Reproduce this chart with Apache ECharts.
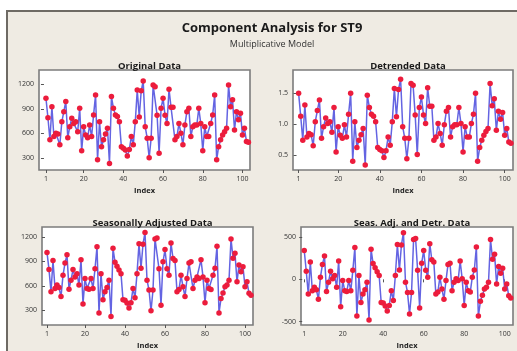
<!DOCTYPE html>
<html><head><meta charset="utf-8">
<script src="https://cdn.jsdelivr.net/npm/echarts@6/dist/echarts.min.js"></script>
<style>html,body{margin:0;padding:0;background:#fff;}#c{width:517px;height:351px;}</style>
</head><body><div id="c"></div>
<script>
const indexTicks = [1, 20, 40, 60, 80, 100];
const originalTicks = [300, 600, 900, 1200];
const detrendedTicks = [0.5, 1.0, 1.5];
const seasAdjTicks = [300, 600, 900, 1200];
const residTicks = [-500, 0, 500];

const originalData = [1030,790,520,925,560,600,590,460,740,865,990,545,680,785,720,740,620,905,385,680,580,545,700,560,825,1070,275,740,435,520,590,660,230,1050,905,825,805,740,435,415,395,320,400,560,460,740,1130,800,1120,1240,680,540,300,540,1190,1170,820,355,905,1030,820,720,1140,920,920,520,560,720,600,460,700,865,905,560,680,700,700,905,720,385,680,560,560,720,825,1070,275,435,520,580,620,660,1190,925,1010,640,865,765,845,580,660,500,490];
const detrendedData = [1.50,1.13,0.74,1.31,0.79,0.85,0.83,0.65,1.04,1.22,1.39,0.77,0.96,1.10,1.01,1.04,0.87,1.27,0.55,0.96,0.82,0.77,0.99,0.79,1.16,1.50,0.40,1.04,0.62,0.74,0.83,0.93,0.34,1.47,1.27,1.16,1.13,1.04,0.62,0.59,0.57,0.46,0.57,0.79,0.66,1.04,1.58,1.12,1.56,1.73,0.96,0.77,0.44,0.77,1.66,1.63,1.15,0.51,1.27,1.44,1.15,1.01,1.59,1.29,1.29,0.74,0.79,1.01,0.85,0.66,0.99,1.21,1.27,0.79,0.96,0.99,0.99,1.27,1.01,0.55,0.96,0.79,0.79,1.01,1.16,1.50,0.40,0.62,0.74,0.82,0.88,0.93,1.66,1.30,1.41,0.90,1.21,1.08,1.19,0.82,0.93,0.71,0.69];
const seasAdjData = [1010,800,530,910,570,610,580,470,730,880,980,560,670,800,710,750,610,920,380,690,570,560,690,570,810,1080,270,750,430,530,580,670,225,1060,890,840,795,750,430,425,390,330,395,570,455,750,1115,815,1110,1255,670,550,295,550,1175,1185,810,365,895,1045,810,730,1125,935,910,530,555,730,590,470,690,880,895,570,670,710,690,920,710,395,670,570,555,730,815,1085,270,445,515,590,610,670,1175,940,1000,650,855,775,835,590,650,510,485];
const residData = [340,96,-174,206,-134,-94,-124,-234,26,176,276,-144,-34,96,6,46,-94,216,-324,-14,-134,-144,-14,-134,106,376,-434,46,-274,-174,-124,-34,-479,356,186,136,91,46,-274,-279,-314,-374,-309,-134,-249,46,411,111,406,551,-34,-154,-409,-154,471,481,106,-339,191,341,106,26,421,231,206,-174,-149,26,-114,-234,-14,176,191,-134,-34,6,-14,216,6,-309,-34,-134,-149,26,111,381,-434,-259,-189,-114,-94,-34,471,236,296,-54,151,71,131,-114,-54,-194,-219];

const panels = [
  {title: 'Original Data', data: originalData, yTicks: originalTicks, ymin: 150, ymax: 1375, xmin: -2.5, xmax: 103.8, left: 39, top: 70, width: 211, height: 100, dec: 0},
  {title: 'Detrended Data', data: detrendedData, yTicks: detrendedTicks, ymin: 0.257, ymax: 1.878, xmin: -1.7, xmax: 104, left: 293, top: 70, width: 220, height: 100, dec: 1},
  {title: 'Seasonally Adjusted Data', data: seasAdjData, yTicks: seasAdjTicks, ymin: 122, ymax: 1321, xmin: -1.5, xmax: 104, left: 42, top: 227, width: 211, height: 99, dec: 0},
  {title: 'Seas. Adj. and Detr. Data', data: residData, yTicks: residTicks, ymin: -539, ymax: 618, xmin: -0.6, xmax: 104.1, left: 301, top: 227, width: 212, height: 98, dec: 0}
];

const FONT = '"Open Sans", "Noto Sans", sans-serif';
const grids = [], xAxes = [], yAxes = [], series = [], titles = [];
titles.push({text: 'Component Analysis for ST9', left: 267, top: 17, textAlign: 'center',
  textStyle: {fontFamily: FONT, fontSize: 13, fontWeight: 'bold', color: '#1a1a1a'}});
titles.push({text: 'Multiplicative Model', left: 267, top: 35, textAlign: 'center',
  textStyle: {fontFamily: FONT, fontSize: 9, fontWeight: 'normal', color: '#333'}});

panels.forEach((p, k) => {
  grids.push({left: p.left, top: p.top, width: p.width, height: p.height, show: true,
    backgroundColor: '#ffffff', borderColor: '#7c7c7c', borderWidth: 1.6, containLabel: false});
  titles.push({text: p.title, left: p.left + p.width / 2, top: p.top - 14, textAlign: 'center',
    textStyle: {fontFamily: FONT, fontSize: 9.5, fontWeight: 'bold', color: '#1a1a1a'}});
  xAxes.push({type: 'value', gridIndex: k, min: p.xmin, max: p.xmax,
    name: 'Index', nameLocation: 'middle', nameGap: 17,
    nameTextStyle: {fontFamily: FONT, fontSize: 7.5, fontWeight: 'bold', color: '#222'},
    axisLine: {show: false}, splitLine: {show: false},
    axisTick: {show: true, length: 3, customValues: indexTicks, lineStyle: {color: '#555'}},
    axisLabel: {customValues: indexTicks, fontFamily: FONT, fontSize: 7, color: '#333', margin: 5,
      formatter: v => String(v)}});
  yAxes.push({type: 'value', gridIndex: k, min: p.ymin, max: p.ymax,
    axisLine: {show: false}, splitLine: {show: false},
    axisTick: {show: true, length: 3, customValues: p.yTicks, lineStyle: {color: '#555'}},
    axisLabel: {customValues: p.yTicks, fontFamily: FONT, fontSize: 7, color: '#333', margin: 5,
      formatter: v => p.dec ? v.toFixed(p.dec) : String(v)}});
  series.push({type: 'line', xAxisIndex: k, yAxisIndex: k,
    data: p.data.map((v, i) => [i + 1, v]),
    symbol: 'circle', symbolSize: 5.5, showSymbol: true, showAllSymbol: true,
    lineStyle: {color: '#6464e2', width: 1.5},
    itemStyle: {color: '#ec1c3c', borderWidth: 0},
    animation: false, z: 3});
});

const chart = echarts.init(document.getElementById('c'), null, {renderer: 'canvas'});
chart.setOption({
  animation: false,
  backgroundColor: '#ffffff',
  graphic: [{type: 'rect', shape: {x: 7, y: 11, width: 520, height: 350}, z: -10,
    style: {fill: '#efebe3', stroke: '#6e6a64', lineWidth: 2}}],
  title: titles,
  grid: grids,
  xAxis: xAxes,
  yAxis: yAxes,
  series: series
});
</script></body></html>
